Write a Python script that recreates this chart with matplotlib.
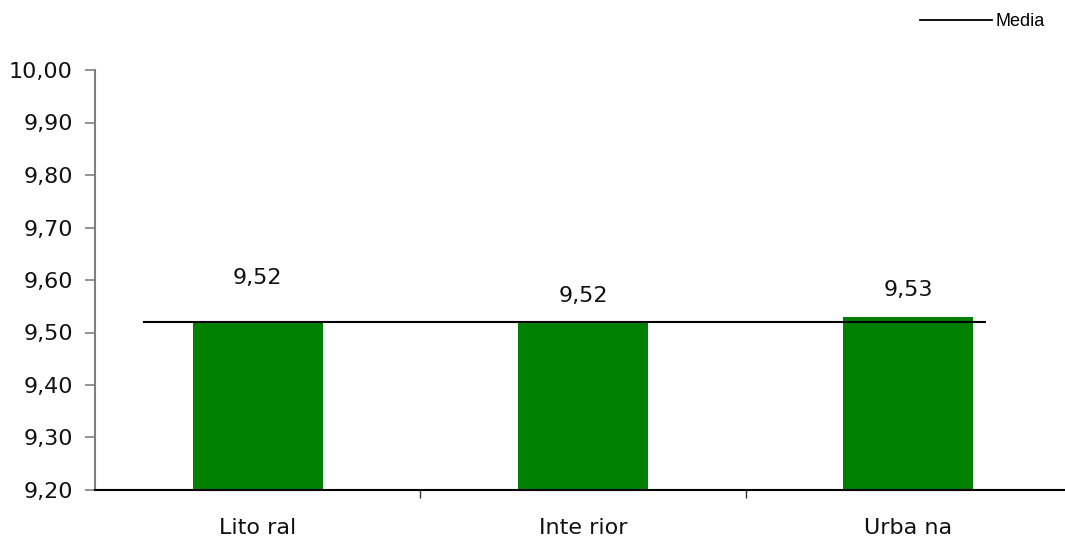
import matplotlib
matplotlib.use("Agg")
import matplotlib.pyplot as plt
from matplotlib.lines import Line2D

categories = ["Lito ral", "Inte rior", "Urba na"]
values = [9.52, 9.52, 9.53]
media = 9.52
y_ticks = [9.20, 9.30, 9.40, 9.50, 9.60, 9.70, 9.80, 9.90, 10.00]
label_offsets_px = [44, 26, 27]  # style: vertical offsets of value labels

W, H = 1065, 542
FS = 16
fig = plt.figure(figsize=(W / 100, H / 100), dpi=100)
ax = fig.add_axes([95 / W, (H - 490) / H, 976 / W, 420 / H])

x = list(range(len(categories)))
ax.bar(x, values, width=0.40, color="#008000", zorder=2)
ax.plot([-0.352, 2.238], [media, media], color="black", lw=1.5, zorder=3,
        solid_capstyle="butt")

ax.set_xlim(-0.5, 2.5)
ax.set_ylim(9.20, 10.00)
ax.set_yticks(y_ticks)
ax.set_yticklabels([f"{v:.2f}".replace(".", ",") for v in y_ticks],
                   fontsize=FS, color="#111111")
ax.set_xticks([0.5, 1.5, 2.5])
ax.set_xticklabels([])
ax.set_xticks(x, minor=True)
ax.set_xticklabels(categories, minor=True, fontsize=FS, color="#111111")
ax.tick_params(axis="x", which="minor", length=0, pad=20)
ax.tick_params(axis="x", which="major", length=6, width=1, color="#333333", direction="out")
ax.tick_params(axis="y", length=7, width=1.2, color="#808080", pad=9)

for s in ["top", "right"]:
    ax.spines[s].set_visible(False)
ax.spines["left"].set_color("#808080")
ax.spines["left"].set_linewidth(1.5)
ax.spines["bottom"].set_color("black")
ax.spines["bottom"].set_linewidth(1.5)

for xi, v, off in zip(x, values, label_offsets_px):
    ax.annotate(f"{v:.2f}".replace(".", ","), (xi, v), xytext=(0, off * 0.72),
                textcoords="offset points", ha="center", va="center",
                fontsize=FS, color="#111111")

handle = Line2D([], [], color="black", lw=1.3)
fig.legend([handle], ["Media"], loc="center right", bbox_to_anchor=(1045 / W, 1 - 22 / H),
           frameon=False, handlelength=4.0, handletextpad=0.2,
           borderpad=0, borderaxespad=0,
           prop={"family": "Liberation Sans", "size": 13})

fig.savefig("out.png", dpi=100)
